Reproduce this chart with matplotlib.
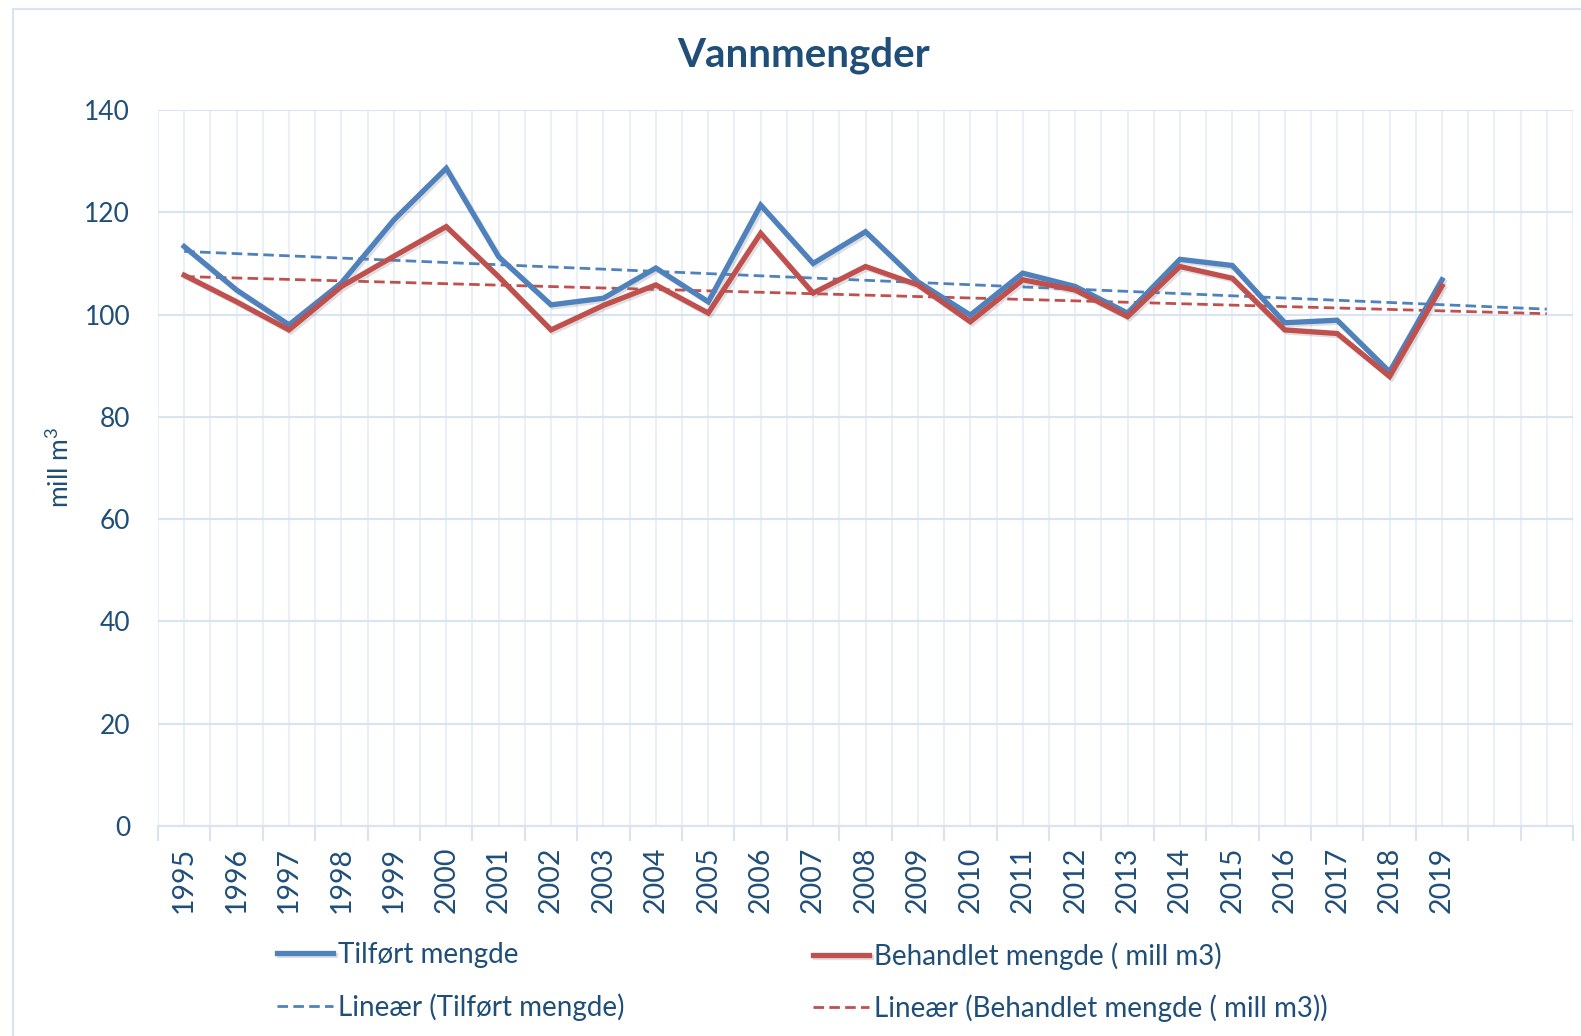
import matplotlib
matplotlib.use("Agg")
import matplotlib.pyplot as plt
import matplotlib.patheffects as pe
import numpy as np
from matplotlib.lines import Line2D

plt.rcParams["font.family"] = ["Lato", "DejaVu Sans"]
plt.rcParams["mathtext.fontset"] = "custom"
plt.rcParams["mathtext.rm"] = "Lato"
plt.rcParams["mathtext.it"] = "Lato"

# data (mill m3)
years = list(range(1995, 2020))
tilfort = [113.3, 104.8, 98.0, 106.2, 118.5, 128.6, 111.3, 101.9, 103.2, 109.1,
           102.5, 121.4, 110.0, 116.2, 106.4, 99.9, 108.1, 105.5, 100.3, 110.8,
           109.6, 98.4, 98.9, 88.8, 106.8]
behandlet = [107.7, 102.5, 97.0, 105.5, 111.4, 117.2, 107.4, 97.0, 101.8, 105.8,
             100.3, 115.9, 104.2, 109.4, 105.8, 98.6, 106.8, 104.8, 99.6, 109.4,
             107.1, 97.0, 96.3, 87.9, 105.6]
n_slots = 27  # axis has two empty category slots after 2019
forecast = 2

BLUE = "#4F81BD"
RED = "#C0504D"
TXT = "#1F4E79"
GRID_H = "#D9E4F3"
GRID_V = "#EAF0F8"

W, H = 1581, 1036
fig = plt.figure(figsize=(W / 100, H / 100), dpi=100)
ax = fig.add_axes([158 / W, 1 - 826 / H, (1573 - 158) / W, (826 - 110) / H])

x = np.arange(len(years))
shadow = [pe.SimpleLineShadow(offset=(1.5, -1.5), alpha=0.25, shadow_color="gray"), pe.Normal()]

l1, = ax.plot(x, tilfort, color=BLUE, lw=3.8, solid_joinstyle="miter", path_effects=shadow, zorder=4)
l2, = ax.plot(x, behandlet, color=RED, lw=3.8, solid_joinstyle="miter", path_effects=shadow, zorder=4)

# linear trend lines (Excel style, forecast forward 2 periods)
xt = np.arange(len(years) + forecast)
k1 = np.polyfit(x, tilfort, 1)
k2 = np.polyfit(x, behandlet, 1)
t1, = ax.plot(xt, np.polyval(k1, xt), color=BLUE, lw=2.0, ls=(0, (3.8, 1.9)), zorder=3)
t2, = ax.plot(xt, np.polyval(k2, xt), color=RED, lw=2.0, ls=(0, (3.8, 1.9)), zorder=3)

ax.set_xlim(-0.5, n_slots - 0.5)
ax.set_ylim(0, 140)
ax.set_yticks(np.arange(0, 141, 20))
ax.tick_params(axis="y", length=0, pad=20, labelsize=19, labelcolor=TXT)

ax.set_xticks(np.arange(-0.5, n_slots, 1))
ax.set_xticklabels([])
ax.set_xticks(np.arange(n_slots), minor=True)
ax.set_xticklabels([str(y) for y in years] + [""] * (n_slots - len(years)), minor=True)
ax.tick_params(axis="x", which="major", length=11, width=1.5, color=GRID_H, direction="out")
ax.tick_params(axis="x", which="minor", length=0, pad=15, labelsize=20.5,
               labelcolor=TXT, labelrotation=90)

ax.grid(axis="y", color=GRID_H, lw=1.5)
ax.grid(axis="x", which="both", color=GRID_V, lw=1.5)
ax.set_axisbelow(True)
for s in ["top", "right", "left"]:
    ax.spines[s].set_visible(False)
ax.spines["bottom"].set_color(GRID_H)
ax.spines["bottom"].set_linewidth(1.5)

fig.text(60 / W, 1 - 468 / H, "mill m$^3$", rotation=90, ha="center", va="center",
         fontsize=19, color=TXT)
fig.text(804 / W, 1 - 55 / H, "Vannmengder", ha="center", va="center",
         fontsize=29, fontweight="bold", color=TXT)

leg_kw = dict(frameon=False, fontsize=20, labelcolor=TXT, handlelength=2.0,
              handletextpad=0.2, labelspacing=0.9, borderpad=0, borderaxespad=0,
              loc="upper left")
fig.legend([l1, t1], ["Tilført mengde", "Lineær (Tilført mengde)"],
           bbox_to_anchor=(277 / W, 1 - 942 / H), **leg_kw)
fig.legend([l2, t2], ["Behandlet mengde ( mill m3)", "Lineær (Behandlet mengde ( mill m3))"],
           bbox_to_anchor=(813 / W, 1 - 942 / H), **leg_kw)

# outer chart frame
fig.add_artist(Line2D([13 / W, 13 / W], [0, 1 - 9 / H], transform=fig.transFigure,
                      color=GRID_H, lw=1.5))
fig.add_artist(Line2D([13 / W, 1], [1 - 9 / H, 1 - 9 / H], transform=fig.transFigure,
                      color=GRID_H, lw=1.5))

fig.savefig("out.png", dpi=100)
